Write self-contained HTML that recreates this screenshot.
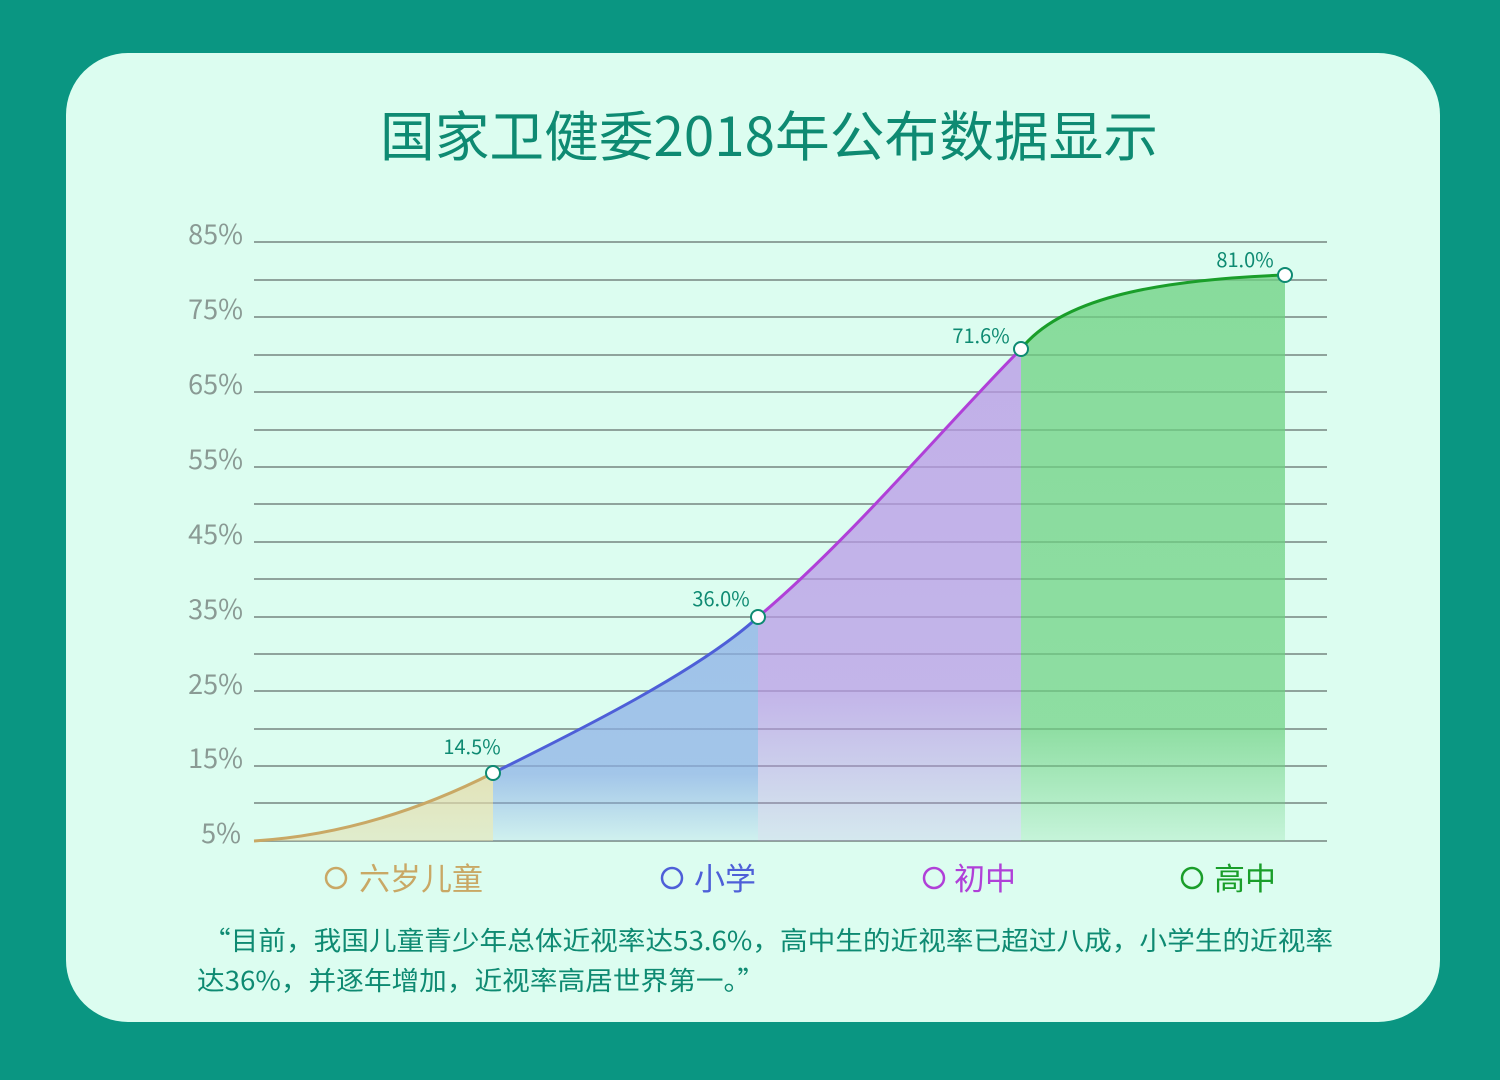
<!DOCTYPE html><html><head><meta charset="utf-8"><style>
body{margin:0;width:1500px;height:1080px;background:#0a9682;overflow:hidden;font-family:"Noto Sans CJK SC",sans-serif}
.card{position:absolute;left:66px;top:53px;width:1374px;height:969px;border-radius:62px;background:#dcfdf0}
</style></head><body><div class="card"></div>
<svg width="1500" height="1080" style="position:absolute;left:0;top:0" font-family="Noto Sans CJK SC, sans-serif">
<defs>
<linearGradient id="gt" x1="0" y1="0" x2="0" y2="1"><stop offset="0" stop-color="#e4dcaa" stop-opacity=".8"/><stop offset="1" stop-color="#e4dcaa" stop-opacity=".5"/></linearGradient>
<linearGradient id="gb" x1="0" y1="0" x2="0" y2="1"><stop offset="0" stop-color="#8aaee6" stop-opacity=".75"/><stop offset=".7" stop-color="#8aaee6" stop-opacity=".7"/><stop offset="1" stop-color="#8aaee6" stop-opacity=".15"/></linearGradient>
<linearGradient id="gp" x1="0" y1="0" x2="0" y2="1"><stop offset="0" stop-color="#b896e6" stop-opacity=".75"/><stop offset=".7" stop-color="#b896e6" stop-opacity=".7"/><stop offset="1" stop-color="#b896e6" stop-opacity=".2"/></linearGradient>
<linearGradient id="gg" x1="0" y1="0" x2="0" y2="1"><stop offset="0" stop-color="#6cd080" stop-opacity=".75"/><stop offset=".8" stop-color="#6cd080" stop-opacity=".7"/><stop offset="1" stop-color="#6cd080" stop-opacity=".2"/></linearGradient>
</defs>
<text x="380" y="156" textLength="778" lengthAdjust="spacingAndGlyphs" font-size="54" fill="#0e8a72">国家卫健委2018年公布数据显示</text>
<g stroke="#8fa39c" stroke-width="2">
<line x1="254" x2="1327" y1="242" y2="242"/><line x1="254" x2="1327" y1="280" y2="280"/><line x1="254" x2="1327" y1="317" y2="317"/><line x1="254" x2="1327" y1="355" y2="355"/><line x1="254" x2="1327" y1="392" y2="392"/><line x1="254" x2="1327" y1="430" y2="430"/><line x1="254" x2="1327" y1="467" y2="467"/><line x1="254" x2="1327" y1="504" y2="504"/><line x1="254" x2="1327" y1="542" y2="542"/><line x1="254" x2="1327" y1="579" y2="579"/><line x1="254" x2="1327" y1="617" y2="617"/><line x1="254" x2="1327" y1="654" y2="654"/><line x1="254" x2="1327" y1="691" y2="691"/><line x1="254" x2="1327" y1="729" y2="729"/><line x1="254" x2="1327" y1="766" y2="766"/><line x1="254" x2="1327" y1="803" y2="803"/><line x1="254" x2="1327" y1="841" y2="841"/>
</g>
<g font-size="27" fill="#8a9a94" text-anchor="end">
<text x="243" y="244">85%</text><text x="243" y="319">75%</text><text x="243" y="394">65%</text><text x="243" y="469">55%</text><text x="243" y="544">45%</text><text x="243" y="619">35%</text><text x="243" y="694">25%</text><text x="243" y="768">15%</text><text x="241" y="843">5%</text>
</g>
<path d="M254,841 C350,835 430,805 493,773 L493,841Z" fill="url(#gt)"/>
<path d="M493,773 C580,730 700,670 758,617 L758,841 L493,841Z" fill="url(#gb)"/>
<path d="M758,617 C850,540 950,420 1021,349 L1021,841 L758,841Z" fill="url(#gp)"/>
<path d="M1021,349 C1060,300 1150,280 1285,275 L1285,841 L1021,841Z" fill="url(#gg)"/>
<g fill="none" stroke-width="3">
<path d="M254,841 C350,835 430,805 493,773" stroke="#c9a865"/>
<path d="M493,773 C580,730 700,670 758,617" stroke="#4e5fd8"/>
<path d="M758,617 C850,540 950,420 1021,349" stroke="#b040d8"/>
<path d="M1021,349 C1060,300 1150,280 1285,275" stroke="#1a9e2a"/>
</g>
<g fill="#fff" stroke="#0e8a72" stroke-width="2"><circle cx="493" cy="773" r="7"/><circle cx="758" cy="617" r="7"/><circle cx="1021" cy="349" r="7"/><circle cx="1285" cy="275" r="7"/></g>
<g font-size="20" fill="#0e8a72" text-anchor="middle">
<text x="472" y="754">14.5%</text><text x="721" y="606">36.0%</text><text x="981" y="343">71.6%</text><text x="1245" y="267">81.0%</text>
</g>
<g font-size="31" fill="none" stroke-width="2.5">
<circle cx="336" cy="878" r="10" stroke="#c9a865"/><text x="359" y="890" fill="#c9a865" stroke="none">六岁儿童</text>
<circle cx="672" cy="878" r="10" stroke="#4e5fd8"/><text x="694" y="890" fill="#4e5fd8" stroke="none">小学</text>
<circle cx="934" cy="878" r="10" stroke="#b040d8"/><text x="954" y="890" fill="#b040d8" stroke="none">初中</text>
<circle cx="1192" cy="878" r="10" stroke="#1a9e2a"/><text x="1214" y="890" fill="#1a9e2a" stroke="none">高中</text>
</g>
<g font-size="26" fill="#0e8a72">
<text x="203" y="950" textLength="1130" lengthAdjust="spacingAndGlyphs">“目前，我国儿童青少年总体近视率达53.6%，高中生的近视率已超过八成，小学生的近视率</text>
<text x="197" y="990" textLength="568" lengthAdjust="spacingAndGlyphs">达36%，并逐年增加，近视率高居世界第一。”</text>
</g>
</svg></body></html>
